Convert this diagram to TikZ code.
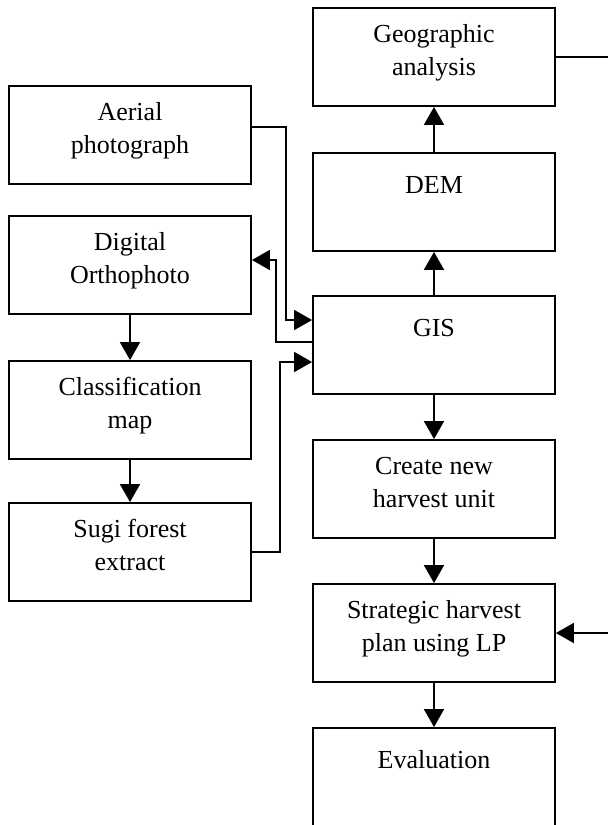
\documentclass[tikz,border=0pt]{standalone}
\usepackage{fontspec}
\setmainfont{Liberation Serif}
\usetikzlibrary{arrows.meta}

\newcommand{\stagelabel}[2]{\parbox[c][98pt][t]{240pt}{\centering\rule{0pt}{#1}#2}}

\tikzset{StageBox/.style={draw,line width=1.8pt,inner sep=0pt,minimum width=242pt,
           font=\fontsize{26}{33}\selectfont},
         StageFlow/.style={line width=1.8pt,-{Triangle[width=20pt,length=18pt]}},
         StageLine/.style={line width=1.8pt}}

\begin{document}
\begin{tikzpicture}[x=1pt,y=-1pt,line cap=butt]
  \useasboundingbox (0,0) rectangle (608,825);
  % right column
  \node[StageBox] (geo)   at (434,57)  {\stagelabel{34pt}{Geographic\\analysis}};
  \node[StageBox] (dem)   at (434,202) {\stagelabel{40pt}{DEM}};
  \node[StageBox] (gis)   at (434,345) {\stagelabel{40pt}{GIS}};
  \node[StageBox] (unit)  at (434,489) {\stagelabel{34pt}{Create new\\harvest unit}};
  \node[StageBox] (plan)  at (434,633) {\stagelabel{34pt}{Strategic harvest\\plan using LP}};
  \node[StageBox] (eval)  at (434,777) {\stagelabel{40pt}{Evaluation}};
  % left column
  \node[StageBox] (aerial) at (130,135) {\stagelabel{34pt}{Aerial\\photograph}};
  \node[StageBox] (ortho)  at (130,265) {\stagelabel{34pt}{Digital\\Orthophoto}};
  \node[StageBox] (class)  at (130,410) {\stagelabel{34pt}{Classification\\map}};
  \node[StageBox] (sugi)   at (130,552) {\stagelabel{34pt}{Sugi forest\\extract}};
  % feedback loop leaves the page on the right
  \coordinate (loopout) at (608,57);
  \coordinate (loopin)  at (608,633);

  \draw[StageFlow] (dem) -- (geo);
  \draw[StageFlow] (gis) -- (dem);
  \draw[StageFlow] (gis) -- (unit);
  \draw[StageFlow] (unit) -- (plan);
  \draw[StageFlow] (plan) -- (eval);
  \draw[StageFlow] (ortho) -- (class);
  \draw[StageFlow] (class) -- (sugi);
  \draw[StageFlow] ([yshift=8pt]aerial.east) -| ([xshift=-26pt,yshift=25pt]gis.west)
    -- ([yshift=25pt]gis.west);
  \draw[StageFlow] ([yshift=3pt]gis.west) -- ++(-36,0) |- ([yshift=5pt]ortho.east);
  \draw[StageFlow] (sugi.east) -| ([xshift=-32pt,yshift=-17pt]gis.west)
    -- ([yshift=-17pt]gis.west);
  \draw[StageLine] (geo.east) -- (loopout);
  \draw[StageFlow] (loopin) -- (plan.east);
\end{tikzpicture}
\end{document}
